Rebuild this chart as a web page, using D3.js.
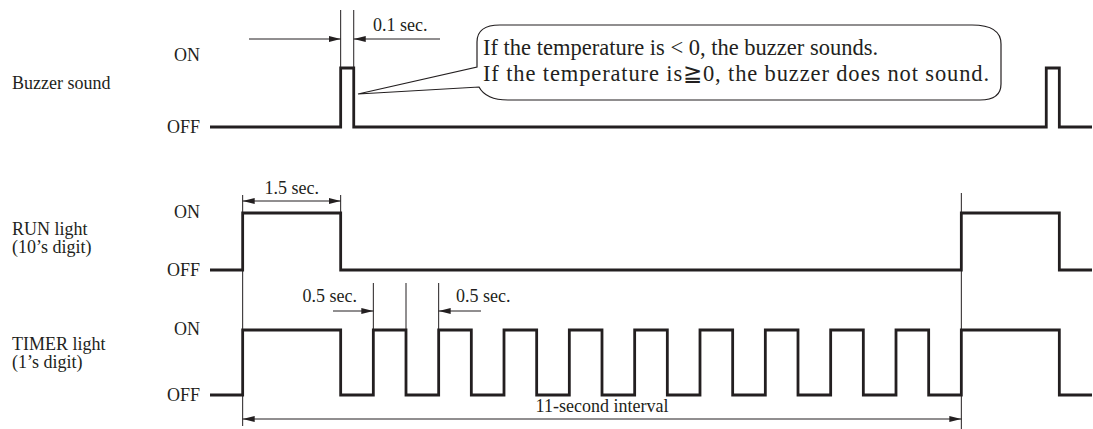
<!DOCTYPE html>
<html>
<head>
<meta charset="utf-8">
<script src="https://cdn.jsdelivr.net/npm/d3@7"></script>
<style>
  body { margin: 0; background: #fff; }
  svg text { font-family: "Liberation Serif", "Times New Roman", serif; fill: #231f20; }
</style>
</head>
<body>
<svg id="chart" width="1093" height="429"></svg>
<script>
// signal steps: [time in sec, state 0=OFF 1=ON]
const buzzerSteps = [[-0.5,0],[1.5,1],[1.7,0],[12.3,1],[12.5,0],[13,0]];
const runSteps = [[-0.5,0],[0,1],[1.5,0],[11,1],[12.5,0],[13,0]];
const timerSteps = [[-0.5,0],[0,1],[1.5,0],[2,1],[2.5,0],[3,1],[3.5,0],[4,1],[4.5,0],
  [5,1],[5.5,0],[6,1],[6.5,0],[7,1],[7.5,0],[8,1],[8.5,0],[9,1],[9.5,0],[10,1],[10.5,0],
  [11,1],[12.5,0],[13,0]];

const rowNames = [["Buzzer sound"], ["RUN light", "(10\u2019s digit)"], ["TIMER light", "(1\u2019s digit)"]];
const stateLabels = ["OFF", "ON"];
// callout text, split around the wide sign
const calloutLines = [["If the temperature is < 0, the buzzer sounds."],
                      ["If the temperature is", "\u2267", "0, the buzzer does not sound."]];
const calloutWidths = [null, 506];

const svg = d3.select("#chart");
const ink = "#231f20";
const fs = 18;

const x = d3.scaleLinear().domain([-0.5, 13]).range([210, 1092]);

// each row: off / on pixel levels
const rows = [
  {steps: buzzerSteps, y: d3.scaleLinear().domain([0,1]).range([127, 68]), nameY: 89, onY: 61, offY: 133},
  {steps: runSteps, y: d3.scaleLinear().domain([0,1]).range([270, 213]), nameY: 235, onY: 218, offY: 276},
  {steps: timerSteps, y: d3.scaleLinear().domain([0,1]).range([395, 330]), nameY: 350, onY: 335, offY: 401}
];

const defs = svg.append("defs");
defs.append("marker")
  .attr("id", "arr")
  .attr("markerUnits", "userSpaceOnUse")
  .attr("markerWidth", 13).attr("markerHeight", 7)
  .attr("refX", 12).attr("refY", 3.5)
  .attr("orient", "auto-start-reverse")
  .append("path").attr("d", "M0,0.5 L12,3.5 L0,6.5 z").attr("fill", ink);

// guide lines & dimension arrows
const guides = svg.append("g").attr("stroke", ink).attr("stroke-width", 1).attr("fill", "none");
function vline(t, y1, y2) {
  guides.append("line").attr("x1", x(t)).attr("x2", x(t)).attr("y1", y1).attr("y2", y2);
}
function arrow(x1, x2, y, both) {
  const l = guides.append("line").attr("x1", x1).attr("x2", x2).attr("y1", y).attr("y2", y)
    .attr("marker-end", "url(#arr)");
  if (both) l.attr("marker-start", "url(#arr)");
}

// 0.1 sec
vline(1.5, 10, 68); vline(1.7, 10, 68);
arrow(249, x(1.5), 39);
arrow(440, x(1.7), 39);
svg.append("text").attr("x", 373).attr("y", 31).attr("font-size", fs).text("0.1 sec.");

// 1.5 sec
vline(0, 195, 426); vline(1.5, 195, 213); vline(11, 193, 429);
arrow(x(0), x(1.5), 201, true);
svg.append("text").attr("x", (x(0) + x(1.5)) / 2).attr("y", 194).attr("text-anchor", "middle")
  .attr("font-size", fs).text("1.5 sec.");

// 0.5 sec
vline(2, 283, 330); vline(2.5, 283, 330); vline(3, 283, 330);
arrow(333, x(2), 311);
arrow(481, x(3), 311);
svg.append("text").attr("x", 357).attr("y", 302).attr("text-anchor", "end").attr("font-size", fs).text("0.5 sec.");
svg.append("text").attr("x", 456).attr("y", 302).attr("font-size", fs).text("0.5 sec.");

// 11-second interval
arrow(x(0), x(11), 419, true);
svg.append("text").attr("x", (x(0) + x(11)) / 2).attr("y", 412).attr("text-anchor", "middle")
  .attr("font-size", fs).text("11-second interval");

// signals
const line = d3.line().curve(d3.curveStepAfter);
rows.forEach((r, i) => {
  svg.append("path")
    .attr("d", line(r.steps.map(d => [x(d[0]), r.y(d[1])])))
    .attr("fill", "none").attr("stroke", ink).attr("stroke-width", 2.8)
    .attr("stroke-linejoin", "miter").attr("stroke-linecap", "butt");
  svg.append("text").attr("x", 200).attr("y", r.onY).attr("text-anchor", "end")
    .attr("font-size", fs).text(stateLabels[1]);
  svg.append("text").attr("x", 200).attr("y", r.offY).attr("text-anchor", "end")
    .attr("font-size", fs).text(stateLabels[0]);
  rowNames[i].forEach((s, j) => {
    svg.append("text").attr("x", 12).attr("y", r.nameY + j * 18).attr("font-size", fs).text(s);
  });
});

// callout balloon
const tip = [358, 94];
svg.append("path")
  .attr("d", `M477,67 L477,42 Q477,25 500,25 L972,25 Q1001,25 1001,44 L1001,84 Q1001,100 980,100
    L508,100 Q486,100 479,87 L${tip[0]},${tip[1]} Z`)
  .attr("fill", "#fff").attr("stroke", ink).attr("stroke-width", 1.2);
calloutLines.forEach((parts, i) => {
  const t = svg.append("text").attr("x", 483).attr("y", 54.5 + i * 26.5).attr("font-size", 22.5);
  if (calloutWidths[i]) t.attr("textLength", calloutWidths[i]).attr("lengthAdjust", "spacing");
  parts.forEach(p => {
    const ts = t.append("tspan").text(p);
    if (p === "\u2267") ts.style("font-family", "'DejaVu Serif'");
  });
});
</script>
</body>
</html>
